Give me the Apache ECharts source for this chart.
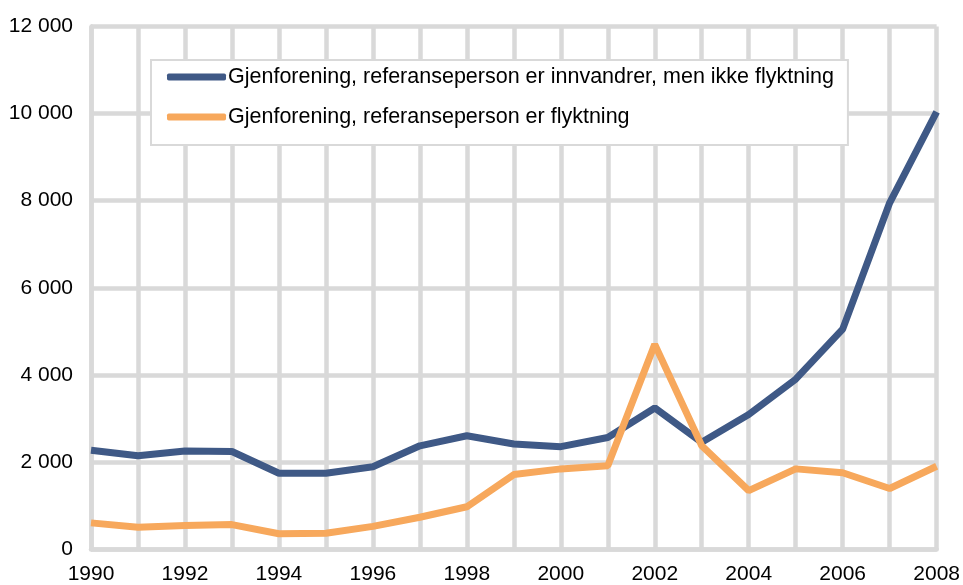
<!DOCTYPE html>
<html>
<head>
<meta charset="utf-8">
<script src="https://cdn.jsdelivr.net/npm/echarts@6/dist/echarts.min.js"></script>
<style>
  html, body { margin: 0; padding: 0; background: #fff; }
  #chart { width: 963px; height: 585px; }
</style>
</head>
<body>
<div id="chart"></div>
<script>
// år 1990-2008
const years = ['1990', '1991', '1992', '1993', '1994', '1995', '1996', '1997', '1998', '1999',
  '2000', '2001', '2002', '2003', '2004', '2005', '2006', '2007', '2008']

const innvandrer = [2270, 2140, 2250, 2240, 1740, 1740, 1890, 2370, 2600, 2410,
  2350, 2560, 3240, 2450, 3090, 3900, 5050, 7950, 10040]

const flyktning = [600, 500, 540, 560, 350, 360, 520, 730, 970, 1710,
  1840, 1910, 4700, 2370, 1340, 1840, 1750, 1390, 1900]

const seriesNames = [
  'Gjenforening, referanseperson er innvandrer, men ikke flyktning',
  'Gjenforening, referanseperson er flyktning'
]

const gridColor = '#d9d9d9'
const fontFamily = '"Liberation Sans", Arial, sans-serif'

const chart = echarts.init(document.getElementById('chart'))

chart.setOption({
  animation: false,
  textStyle: { fontFamily },
  grid: { left: 91, right: 23.5, top: 26.5, bottom: 34, containLabel: false },
  legend: {
    orient: 'vertical',
    left: 151,
    top: 60,
    padding: [6, 14, 17, 16],
    itemGap: 18,
    itemWidth: 59,
    itemHeight: 7,
    icon: 'roundRect',
    backgroundColor: '#fff',
    borderColor: gridColor,
    borderWidth: 2,
    borderRadius: 0,
    textStyle: { fontSize: 21.5, color: '#000', fontFamily, padding: [0, 0, 0, -3] },
    data: seriesNames
  },
  xAxis: {
    type: 'category',
    data: years,
    boundaryGap: false,
    axisLine: { lineStyle: { color: gridColor, width: 4.5 } },
    axisTick: { show: false },
    axisLabel: { interval: 1, fontSize: 21, color: '#000', margin: 15 },
    splitLine: { show: true, interval: 0, lineStyle: { color: gridColor, width: 4.5 } }
  },
  yAxis: {
    type: 'value',
    min: 0,
    max: 12000,
    interval: 2000,
    axisLine: { show: true, lineStyle: { color: gridColor, width: 4.5 } },
    axisTick: { show: false },
    axisLabel: {
      fontSize: 21,
      color: '#000',
      margin: 18,
      formatter: v => String(v).replace(/\B(?=(\d{3})+(?!\d))/g, ' ')
    },
    splitLine: { lineStyle: { color: gridColor, width: 4.5 } }
  },
  series: [
    {
      name: seriesNames[0],
      type: 'line',
      data: innvandrer,
      symbol: 'none',
      lineStyle: { width: 7, color: '#3f5986' },
      itemStyle: { color: '#3f5986' },
      z: 3
    },
    {
      name: seriesNames[1],
      type: 'line',
      data: flyktning,
      symbol: 'none',
      lineStyle: { width: 7, color: '#f7a85c' },
      itemStyle: { color: '#f7a85c' },
      z: 4
    }
  ]
})
</script>
</body>
</html>
